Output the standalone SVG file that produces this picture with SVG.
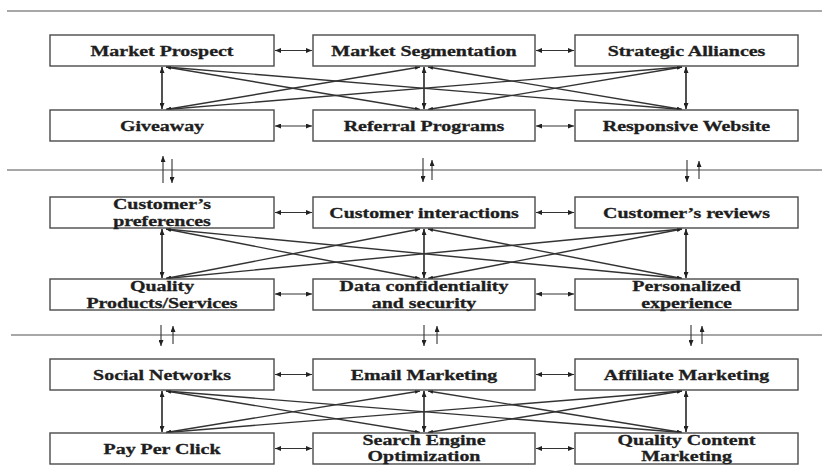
<svg xmlns="http://www.w3.org/2000/svg" width="822" height="475" viewBox="0 0 822 475">
  <style>
    .box { fill: #ffffff; stroke: #4a4a4a; stroke-width: 1.4; }
    .t { font-family: "Liberation Serif", "Times New Roman", serif; font-weight: bold; font-size: 15px; fill: #1e1e1e; stroke: #1e1e1e; stroke-width: 0.3; text-anchor: middle; }
    .sep { stroke: #8a8a8a; stroke-width: 1.6; fill: none; }
    .harrow { stroke: #333; stroke-width: 1.1; fill: none; marker-start: url(#ah); marker-end: url(#ah); }
    .varrow { stroke: #333; stroke-width: 1.7; fill: none; marker-start: url(#ah); marker-end: url(#ah); }
    .cross { stroke: #333; stroke-width: 1.4; fill: none; marker-start: url(#sm); marker-end: url(#sm); }
    .link { stroke: #333; stroke-width: 1.1; fill: none; marker-end: url(#ah); }
  </style>
  <defs>
    <marker id="ah" markerUnits="userSpaceOnUse" markerWidth="6" markerHeight="5" refX="6" refY="2.5" orient="auto-start-reverse">
      <path d="M0,0 L6,2.5 L0,5 z" fill="#222"/>
    </marker>
    <marker id="sm" markerUnits="userSpaceOnUse" markerWidth="5" markerHeight="4" refX="5" refY="2" orient="auto-start-reverse">
      <path d="M0,0 L5,2 L0,4 z" fill="#222"/>
    </marker>
  </defs>

  <!-- section separators -->
  <g id="separators">
    <line class="sep" x1="7" y1="11" x2="822" y2="11"/>
    <line class="sep" x1="7" y1="170" x2="822" y2="170"/>
    <line class="sep" x1="11" y1="335" x2="822" y2="335"/>
  </g>

  <!-- connectors -->
  <g id="connectors">
    <!-- section 1 -->
    <line class="harrow" x1="275" y1="50.5" x2="312" y2="50.5"/>
    <line class="harrow" x1="536" y1="50.5" x2="574" y2="50.5"/>
    <line class="harrow" x1="275" y1="126" x2="312" y2="126"/>
    <line class="harrow" x1="536" y1="126" x2="574" y2="126"/>
    <line class="varrow" x1="162" y1="67" x2="162" y2="109"/>
    <line class="varrow" x1="424" y1="67" x2="424" y2="109"/>
    <line class="varrow" x1="686" y1="67" x2="686" y2="109"/>
    <line class="cross" x1="166" y1="67" x2="420" y2="109.5"/>
    <line class="cross" x1="166" y1="67" x2="682" y2="109.5"/>
    <line class="cross" x1="166" y1="109.5" x2="420" y2="67"/>
    <line class="cross" x1="166" y1="109.5" x2="682" y2="67"/>
    <line class="cross" x1="428" y1="67" x2="682" y2="109.5"/>
    <line class="cross" x1="428" y1="109.5" x2="682" y2="67"/>

    <!-- section 1 / 2 links -->
    <line class="link" x1="163" y1="183" x2="163" y2="156"/>
    <line class="link" x1="172" y1="159" x2="172" y2="183"/>
    <line class="link" x1="423" y1="158" x2="423" y2="182"/>
    <line class="link" x1="432" y1="180" x2="432" y2="160"/>
    <line class="link" x1="687" y1="160" x2="687" y2="182"/>
    <line class="link" x1="699" y1="179" x2="699" y2="161"/>

    <!-- section 2 -->
    <line class="harrow" x1="275" y1="212.5" x2="312" y2="212.5"/>
    <line class="harrow" x1="536" y1="212.5" x2="574" y2="212.5"/>
    <line class="harrow" x1="275" y1="294" x2="312" y2="294"/>
    <line class="harrow" x1="536" y1="294" x2="574" y2="294"/>
    <line class="varrow" x1="162" y1="229" x2="162" y2="278"/>
    <line class="varrow" x1="424" y1="229" x2="424" y2="278"/>
    <line class="varrow" x1="686" y1="229" x2="686" y2="278"/>
    <line class="cross" x1="166" y1="229" x2="420" y2="278.5"/>
    <line class="cross" x1="166" y1="229" x2="682" y2="278.5"/>
    <line class="cross" x1="166" y1="278.5" x2="420" y2="229"/>
    <line class="cross" x1="166" y1="278.5" x2="682" y2="229"/>
    <line class="cross" x1="428" y1="229" x2="682" y2="278.5"/>
    <line class="cross" x1="428" y1="278.5" x2="682" y2="229"/>

    <!-- section 2 / 3 links -->
    <line class="link" x1="161" y1="325" x2="161" y2="346"/>
    <line class="link" x1="173" y1="344" x2="173" y2="326"/>
    <line class="link" x1="424" y1="325" x2="424" y2="346"/>
    <line class="link" x1="437" y1="344" x2="437" y2="326"/>
    <line class="link" x1="691" y1="325" x2="691" y2="346"/>
    <line class="link" x1="702" y1="344" x2="702" y2="326"/>

    <!-- section 3 -->
    <line class="harrow" x1="275" y1="374.5" x2="312" y2="374.5"/>
    <line class="harrow" x1="536" y1="374.5" x2="574" y2="374.5"/>
    <line class="harrow" x1="275" y1="448.5" x2="312" y2="448.5"/>
    <line class="harrow" x1="536" y1="448.5" x2="574" y2="448.5"/>
    <line class="varrow" x1="162" y1="391" x2="162" y2="432"/>
    <line class="varrow" x1="424" y1="391" x2="424" y2="432"/>
    <line class="varrow" x1="686" y1="391" x2="686" y2="432"/>
    <line class="cross" x1="166" y1="391" x2="420" y2="432.5"/>
    <line class="cross" x1="166" y1="391" x2="682" y2="432.5"/>
    <line class="cross" x1="166" y1="432.5" x2="420" y2="391"/>
    <line class="cross" x1="166" y1="432.5" x2="682" y2="391"/>
    <line class="cross" x1="428" y1="391" x2="682" y2="432.5"/>
    <line class="cross" x1="428" y1="432.5" x2="682" y2="391"/>
  </g>

  <!-- section 1 nodes -->
  <g id="market-prospect">
    <rect class="box" x="50" y="35" width="224" height="31"/>
    <text class="t" transform="translate(162 56) scale(1.33 1)">Market Prospect</text>
  </g>
  <g id="market-segmentation">
    <rect class="box" x="313" y="35" width="222" height="31"/>
    <text class="t" transform="translate(424 56) scale(1.33 1)">Market Segmentation</text>
  </g>
  <g id="strategic-alliances">
    <rect class="box" x="575" y="35" width="223" height="31"/>
    <text class="t" transform="translate(686.5 56) scale(1.33 1)">Strategic Alliances</text>
  </g>
  <g id="giveaway">
    <rect class="box" x="50" y="110" width="224" height="31"/>
    <text class="t" transform="translate(162 131) scale(1.33 1)">Giveaway</text>
  </g>
  <g id="referral-programs">
    <rect class="box" x="313" y="110" width="222" height="31"/>
    <text class="t" transform="translate(424 131) scale(1.33 1)">Referral Programs</text>
  </g>
  <g id="responsive-website">
    <rect class="box" x="575" y="110" width="223" height="31"/>
    <text class="t" transform="translate(686.5 131) scale(1.33 1)">Responsive Website</text>
  </g>

  <!-- section 2 nodes -->
  <g id="customer-preferences">
    <rect class="box" x="50" y="197" width="224" height="31"/>
    <text class="t" transform="translate(162 209) scale(1.33 1)">Customer’s</text>
    <text class="t" transform="translate(162 226) scale(1.33 1)">preferences</text>
  </g>
  <g id="customer-interactions">
    <rect class="box" x="313" y="197" width="222" height="31"/>
    <text class="t" transform="translate(424 218) scale(1.33 1)">Customer interactions</text>
  </g>
  <g id="customer-reviews">
    <rect class="box" x="575" y="197" width="223" height="31"/>
    <text class="t" transform="translate(686.5 218) scale(1.33 1)">Customer’s reviews</text>
  </g>
  <g id="quality-products">
    <rect class="box" x="50" y="279" width="224" height="31"/>
    <text class="t" transform="translate(162 291) scale(1.33 1)">Quality</text>
    <text class="t" transform="translate(162 308) scale(1.33 1)">Products/Services</text>
  </g>
  <g id="data-confidentiality">
    <rect class="box" x="313" y="279" width="222" height="31"/>
    <text class="t" transform="translate(424 291) scale(1.33 1)">Data confidentiality</text>
    <text class="t" transform="translate(424 308) scale(1.33 1)">and security</text>
  </g>
  <g id="personalized-experience">
    <rect class="box" x="575" y="279" width="223" height="31"/>
    <text class="t" transform="translate(686.5 291) scale(1.33 1)">Personalized</text>
    <text class="t" transform="translate(686.5 308) scale(1.33 1)">experience</text>
  </g>

  <!-- section 3 nodes -->
  <g id="social-networks">
    <rect class="box" x="50" y="359" width="224" height="31"/>
    <text class="t" transform="translate(162 380) scale(1.33 1)">Social Networks</text>
  </g>
  <g id="email-marketing">
    <rect class="box" x="313" y="359" width="222" height="31"/>
    <text class="t" transform="translate(424 380) scale(1.33 1)">Email Marketing</text>
  </g>
  <g id="affiliate-marketing">
    <rect class="box" x="575" y="359" width="223" height="31"/>
    <text class="t" transform="translate(686.5 380) scale(1.33 1)">Affiliate Marketing</text>
  </g>
  <g id="pay-per-click">
    <rect class="box" x="50" y="433" width="224" height="31"/>
    <text class="t" transform="translate(162 454) scale(1.33 1)">Pay Per Click</text>
  </g>
  <g id="search-engine-optimization">
    <rect class="box" x="313" y="433" width="222" height="31"/>
    <text class="t" transform="translate(424 445) scale(1.33 1)">Search Engine</text>
    <text class="t" transform="translate(424 461) scale(1.33 1)">Optimization</text>
  </g>
  <g id="quality-content-marketing">
    <rect class="box" x="575" y="433" width="223" height="31"/>
    <text class="t" transform="translate(686.5 445) scale(1.33 1)">Quality Content</text>
    <text class="t" transform="translate(686.5 461) scale(1.33 1)">Marketing</text>
  </g>
</svg>
